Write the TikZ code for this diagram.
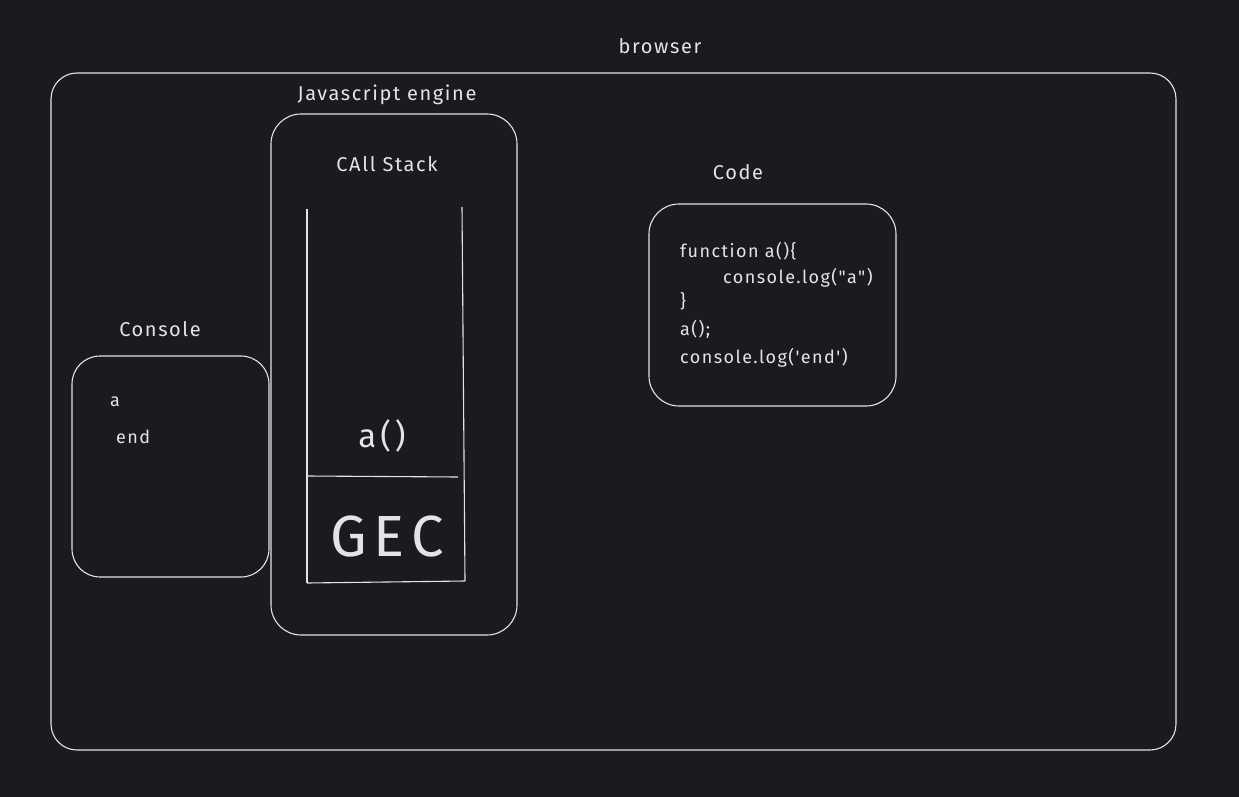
\documentclass[tikz,border=0pt]{standalone}
\usepackage{fontspec}
\setmainfont{Fira Sans}
\newfontfamily\labelfont[LetterSpace=8]{Fira Sans}
\newfontfamily\codefont[LetterSpace=8]{Fira Sans}
\newfontfamily\bigfont[LetterSpace=12]{Fira Sans}
\definecolor{bg}{RGB}{26,27,30}
\definecolor{ink}{RGB}{228,228,228}
\begin{document}
\begin{tikzpicture}[x=1pt,y=-1pt,
  frame/.style={draw=ink,line width=1.1pt,rounded corners=#1,inner sep=0pt},
  frame/.default=28pt,
  lbl/.style={text=ink,font=\labelfont\fontsize{20}{23}\selectfont,inner sep=0pt},
  codetxt/.style={text=ink,font=\codefont\fontsize{18}{21}\selectfont,inner sep=0pt,anchor=base west},
  stk/.style={draw=ink,line width=1.1pt}]
\fill[bg] (0,0) rectangle (1239,797);
\useasboundingbox (0,0) rectangle (1239,797);
% browser
\node[frame=26pt,minimum width=1125pt,minimum height=677pt] (browser) at (613.5,411.5) {};
\node[lbl] (browserlbl) at (660,46) {browser};
% engine
\node[frame=30pt,minimum width=246pt,minimum height=521pt] (engine) at (394,374.5) {};
\node[lbl] (enginelbl) at (387,95) {Javascript engine};
\node[lbl] (calllbl) at (387,164) {CAll Stack};
% stack
\coordinate (stl) at (307,209);
\coordinate (sbl) at (307,583);
\coordinate (str) at (462,207);
\coordinate (sbr) at (465,581);
\coordinate (dl) at (307,476);
\coordinate (dr) at (458,477);
\draw[stk] (stl) -- (sbl);
\draw[stk] (str) -- (sbr);
\draw[stk] (dl) -- (dr);
\draw[stk] (sbl) -- (sbr);
\node[text=ink,font=\bigfont\fontsize{33}{36}\selectfont,inner sep=0pt] (afr) at (382,436) {a()};
\node[text=ink,font=\bigfont\fontsize{58}{62}\selectfont,inner sep=0pt] (gec) at (387,537) {GEC};
% console
\node[frame=28pt,minimum width=197pt,minimum height=221pt] (console) at (170.5,466.5) {};
\node[lbl] (consolelbl) at (160,329) {Console};
\node[codetxt] (ca) at (110,406) {a};
\node[codetxt] (cend) at (116,443) {end};
% code
\node[frame=30pt,minimum width=247pt,minimum height=202pt] (code) at (772.5,305) {};
\node[lbl] (codelbl) at (738,172) {Code};
\node[codetxt] (l1) at (680,257) {function a()\{};
\node[codetxt] (l2) at (723,283) {console.log("a")};
\node[codetxt] (l3) at (680,307) {\}};
\node[codetxt] (l4) at (680,335) {a();};
\node[codetxt] (l5) at (680,363) {console.log('end')};
\end{tikzpicture}
\end{document}
